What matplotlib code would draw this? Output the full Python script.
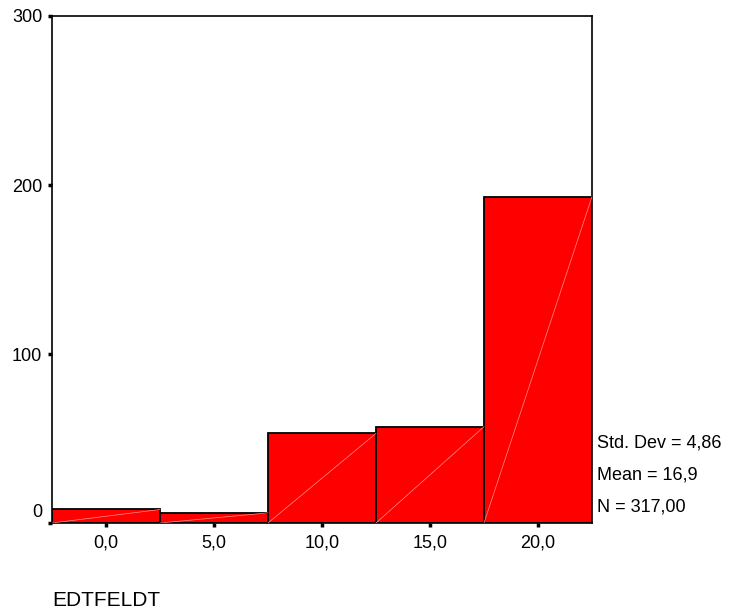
import matplotlib
matplotlib.use("Agg")
import matplotlib.pyplot as plt

plt.rcParams['font.family'] = ['Liberation Sans', 'DejaVu Sans']

# histogram of EDTFELDT
bin_centers = [0.0, 5.0, 10.0, 15.0, 20.0]
counts = [8, 6, 53, 57, 193]
bin_width = 5.0
tick_labels = ["0,0", "5,0", "10,0", "15,0", "20,0"]
y_ticks = [0, 100, 200, 300]
stats_lines = ["Std. Dev = 4,86", "Mean = 16,9", "N = 317,00"]
var_name = "EDTFELDT"

fig = plt.figure(figsize=(7.31, 6.13), dpi=100)
ax = fig.add_axes([0.0711, 0.1468, 0.7387, 0.8271])

ax.bar(bin_centers, counts, width=bin_width, color="#ff0000",
       edgecolor="black", linewidth=1.3, zorder=2)

# faint diagonals seen inside each bar
for c, n in zip(bin_centers, counts):
    ax.plot([c - bin_width / 2, c + bin_width / 2], [0, n],
            color="#ff9090", linewidth=0.5, zorder=3)

ax.set_xlim(-2.5, 22.5)
ax.set_ylim(0, 300)
ax.set_xticks(bin_centers)
ax.set_xticklabels(tick_labels, fontsize=13)
ax.set_yticks(y_ticks)
ax.set_yticklabels([str(v) if v != 0 else "" for v in y_ticks], fontsize=13)
ax.text(-0.017, 0.02, "0", transform=ax.transAxes, ha="right", va="center",
        fontsize=13)

for s in ax.spines.values():
    s.set_linewidth(1.2)
ax.tick_params(direction="out", length=3, width=2.5)
ax.tick_params(axis="x", pad=5)
ax.tick_params(axis="y", pad=4)

for i, line in enumerate(stats_lines):
    fig.text(0.817, 0.2773 - i * 0.0522, line, fontsize=13, va="center", ha="left")

fig.text(0.071, 0.021, var_name, fontsize=15, va="center", ha="left")

fig.savefig("out.png", dpi=100)
